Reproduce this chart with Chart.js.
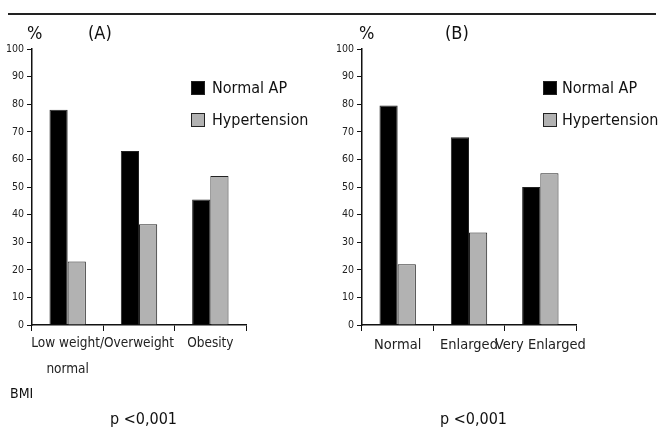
<!DOCTYPE html>
<html>
<head>
<meta charset="utf-8">
<script src="https://cdn.jsdelivr.net/npm/chart.js@4.4.1/dist/chart.umd.min.js"></script>
<style>
  body { margin: 0; background: #fff; }
  #wrap { position: relative; width: 663px; height: 432px; overflow: hidden;
          font-family: 'DejaVu Sans Condensed', 'Liberation Sans Narrow', sans-serif; color: #111; }
  canvas { position: absolute; top: 0; }
  .txt { position: absolute; white-space: nowrap; line-height: 1; }
  #rule { position: absolute; left: 8px; top: 13px; width: 648px; height: 2px; background: #222; }
</style>
</head>
<body>
<div id="wrap">
  <div id="rule"></div>
  <canvas id="chartA" width="331" height="432" style="left:0"></canvas>
  <canvas id="chartB" width="333" height="432" style="left:330px"></canvas>
  <div class="txt" style="left:27px;top:24px;font-size:18px">%</div>
  <div class="txt" style="left:88px;top:24px;font-size:18px">(A)</div>
  <div class="txt" style="left:359px;top:24px;font-size:18px">%</div>
  <div class="txt" style="left:445px;top:24px;font-size:18px">(B)</div>
  <div class="txt" style="left:10px;top:386px;font-size:14px">BMI</div>
  <div class="txt" style="left:110px;top:411px;font-size:16px">p &lt;0,001</div>
  <div class="txt" style="left:440px;top:411px;font-size:16px">p &lt;0,001</div>
</div>
<script>
const seriesNames = ['Normal AP', 'Hypertension'];
const bmiCategories = [['Low weight/', 'normal'], 'Overweight', 'Obesity'];
const bmiNormalAP = [78, 63, 45.5];
const bmiHypertension = [23, 36.5, 54];
const lvCategories = ['Normal', 'Enlarged', 'Very Enlarged'];
const lvNormalAP = [79.5, 68, 50];
const lvHypertension = [22, 33.5, 55];
const yTicks = [0, 10, 20, 30, 40, 50, 60, 70, 80, 90, 100];

const FONT = "'DejaVu Sans Condensed', 'Liberation Sans Narrow', sans-serif";

// legend drawn inside the plot, like the figure
const boxLegend = {
    id: 'boxLegend',
    afterDraw(chart, args, opts) {
        const ctx = chart.ctx;
        ctx.save();
        ctx.font = '16px ' + FONT;
        ctx.textBaseline = 'middle';
        chart.data.datasets.forEach((ds, i) => {
            const y = opts.y + i * 32;
            ctx.fillStyle = ds.backgroundColor;
            ctx.strokeStyle = '#222';
            ctx.lineWidth = 1;
            ctx.fillRect(opts.x, y, 14, 14);
            ctx.strokeRect(opts.x + 0.5, y + 0.5, 13, 13);
            ctx.fillStyle = '#111';
            ctx.fillText(ds.label, opts.x + opts.gap, y + 8);
        });
        ctx.restore();
    }
};

function makeChart(id, labels, normal, hyper, cfg) {
    return new Chart(document.getElementById(id), {
        type: 'bar',
        data: {
            labels: labels,
            datasets: [
                { label: seriesNames[0], data: normal, backgroundColor: '#000000', borderColor: '#222', borderWidth: 1 },
                { label: seriesNames[1], data: hyper, backgroundColor: '#b2b2b2', borderColor: '#222', borderWidth: 1 }
            ]
        },
        options: {
            responsive: false,
            animation: false,
            layout: { padding: { left: 0, top: 49, right: cfg.right, bottom: 0 } },
            datasets: { bar: { barPercentage: 1, categoryPercentage: 0.51 } },
            plugins: {
                legend: { display: false },
                tooltip: { enabled: false },
                boxLegend: { x: cfg.legendX, y: 81, gap: cfg.gap }
            },
            scales: {
                y: {
                    min: 0, max: 100,
                    afterFit: s => { s.width = 32; },
                    afterBuildTicks: s => { s.ticks = yTicks.map(v => ({ value: v })); },
                    border: { color: '#111', width: 1.5 },
                    grid: { drawOnChartArea: false, tickLength: 5, color: '#111', lineWidth: 1 },
                    ticks: { color: '#222', padding: 3, font: { family: FONT, size: 10.5 } }
                },
                x: {
                    afterFit: s => { s.height = 107; },
                    border: { color: '#111', width: 1.5 },
                    grid: { drawOnChartArea: false, tickLength: 6, color: '#111', lineWidth: 1 },
                    ticks: { color: '#222', padding: 0, maxRotation: 0, autoSkip: false,
                             font: { family: FONT, size: cfg.labelSize, lineHeight: 1.9 } }
                }
            }
        },
        plugins: [boxLegend]
    });
}

makeChart('chartA', bmiCategories, bmiNormalAP, bmiHypertension, { right: 85, legendX: 191, gap: 21, labelSize: 13.5 });
makeChart('chartB', lvCategories, lvNormalAP, lvHypertension, { right: 87, legendX: 213, gap: 19, labelSize: 14.5 });
</script>
</body>
</html>
